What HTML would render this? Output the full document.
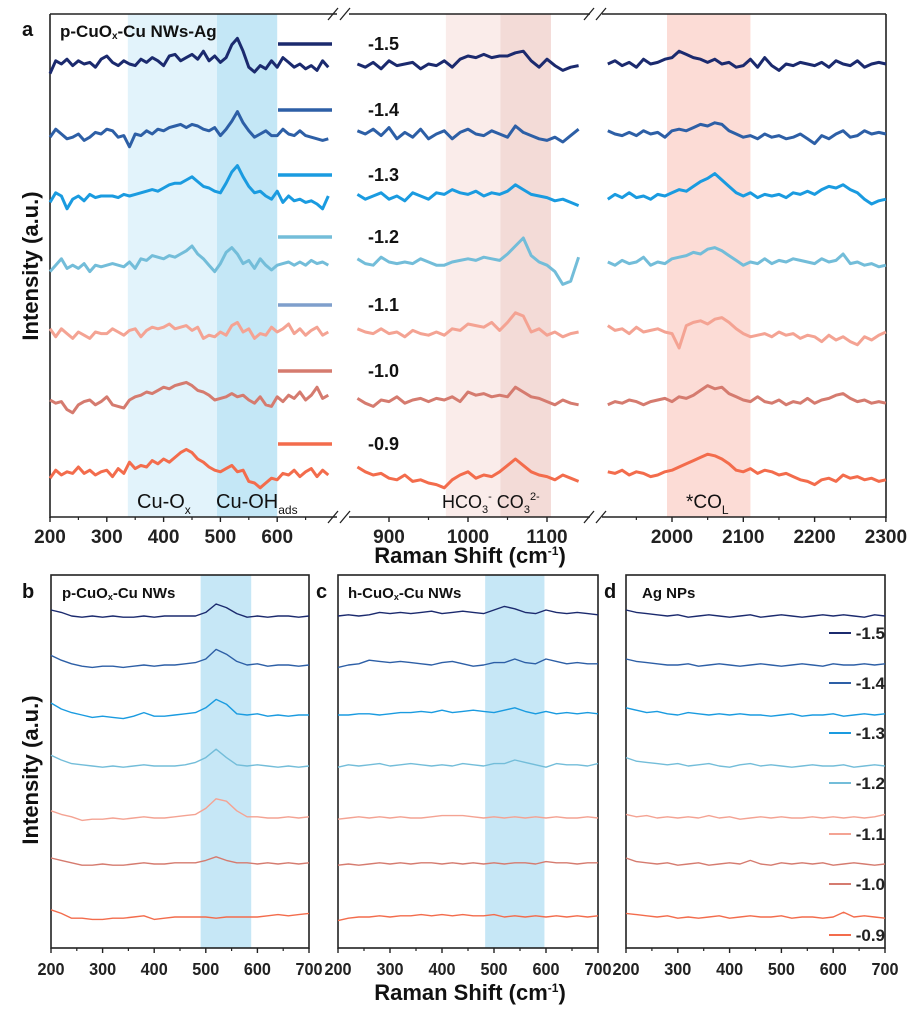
<!DOCTYPE html>
<html><head><meta charset="utf-8">
<style>
html,body{margin:0;padding:0;background:#fff;}
svg{display:block;font-family:"Liberation Sans",Arial,sans-serif;}
</style></head>
<body>
<svg id="fig" width="917" height="1011" viewBox="0 0 917 1011" xmlns="http://www.w3.org/2000/svg">
<g id="bands"></g>
<g id="frames"></g>
<g id="series"></g>
<g id="labels"></g>
</svg>
<script>
// ---------- DATA ----------
const potentials = ["-1.5","-1.4","-1.3","-1.2","-1.1","-1.0","-0.9"];
const seriesColors = ["#1b2a6e","#2d5fa6","#1a9be0","#73bdd9","#f4a393","#d57b6f","#f36c4c"];
const legendColorsA = ["#1b2a6e","#2d5fa6","#1a9be0","#73bdd9","#7f9fcc","#d57b6f","#f36c4c"];

const seg1X = [200,210,220,230,240,250,260,270,280,290,300,310,320,330,340,350,360,370,380,390,400,410,420,430,440,450,460,470,480,490,500,510,520,530,540,550,560,570,580,590,600,610,620,630,640,650,660,670,680,690];
const seg2X = [860,870,880,890,900,910,920,930,940,950,960,970,980,990,1000,1010,1020,1030,1040,1050,1060,1070,1080,1090,1100,1110,1120,1130,1140];
const seg3X = [1910,1920,1930,1940,1950,1960,1970,1980,1990,2000,2010,2020,2030,2040,2050,2060,2070,2080,2090,2100,2110,2120,2130,2140,2150,2160,2170,2180,2190,2200,2210,2220,2230,2240,2250,2260,2270,2280,2290,2300];

const aSeg1 = [
[-6,2,0,3,-1,2,0,1,-2,3,5,1,-1,2,0,-1,3,1,4,2,-1,5,6,2,4,6,3,8,2,5,1,4,12,16,8,-2,-5,-1,-3,2,-2,4,1,-2,0,-3,-1,-4,2,-2],
[-2,3,0,-3,-2,0,-4,-2,1,0,3,2,-2,-1,-8,0,-1,2,0,3,2,4,5,6,4,6,5,3,2,4,-1,3,8,14,7,2,-2,0,2,-1,-1,3,0,-1,2,-1,-2,-3,-4,-3],
[-4,2,0,-8,-2,0,-3,1,-1,0,0,0,-1,1,0,1,2,3,4,3,5,7,8,8,10,12,9,6,5,3,2,8,15,19,12,6,2,3,0,-2,3,-4,0,-3,-2,-4,-3,-5,-8,0],
[-6,-2,2,-4,-2,-4,-1,-6,-2,-3,-2,-1,-2,-3,0,-4,2,1,4,3,2,4,3,5,7,10,5,2,-2,-6,-1,6,9,5,-1,1,-4,2,-2,-5,-2,-1,0,-2,0,-2,1,-1,0,-2],
[2,-3,2,-1,-4,0,-2,-4,0,-1,-1,2,0,-2,1,2,-3,1,3,2,3,5,2,3,4,1,3,-4,-2,-3,0,-2,4,6,0,2,-4,-1,-2,3,0,2,5,-1,2,-2,1,3,-2,0],
[0,-2,-1,-6,-8,-3,-1,0,-3,-1,2,-3,-4,-5,0,2,3,5,4,6,8,7,9,10,11,9,6,5,3,0,1,2,4,2,3,0,-2,2,-3,-4,2,-1,3,1,5,0,3,8,1,3],
[-2,3,0,2,1,5,1,3,0,2,3,-1,4,1,8,4,6,5,9,7,10,8,11,14,16,14,10,8,5,3,2,4,6,2,3,-4,-5,-8,-5,-2,-3,1,0,3,-1,2,4,-1,3,0]
];
const aSeg2 = [
[0,-2,1,-3,2,-1,0,1,-3,0,-1,2,-2,3,5,4,6,4,5,5,7,8,2,-2,3,-1,-4,-2,-1],
[2,0,3,-1,4,-3,1,-2,3,-3,0,2,-3,1,3,0,-1,2,0,-2,5,1,-1,-3,-4,-2,-5,-1,3],
[1,-2,0,2,-2,0,-3,2,0,-2,2,1,4,2,1,3,0,2,1,3,7,4,1,0,-1,-3,-2,-4,-6],
[2,-1,-2,3,0,-1,0,-1,2,0,-2,-2,0,1,2,1,3,2,1,5,10,15,4,0,-2,-6,-14,-12,3],
[2,0,-1,2,-1,0,-3,1,-1,-2,0,-2,2,1,5,4,3,6,1,6,12,10,0,2,-2,0,-3,-1,0],
[1,-2,-4,0,-1,2,-2,0,1,-1,1,0,2,-1,5,3,4,2,3,2,8,5,2,1,-1,-3,0,-2,-3],
[5,2,0,1,-2,-3,0,-4,-3,-5,-6,-8,-3,0,2,-2,0,-1,2,6,10,6,2,0,-1,-3,0,-2,-4]
];
const aSeg3 = [
[0,2,-1,1,-2,3,0,1,3,4,8,6,4,3,1,3,0,1,-2,-1,3,-2,4,-1,-4,0,-1,1,0,-1,1,-2,2,0,-1,2,-2,0,1,0],
[2,0,-1,1,-1,2,0,1,-2,2,3,2,4,6,5,7,6,2,0,-2,-1,-3,0,-2,-1,-3,-2,0,-3,-6,-1,-3,0,2,-2,-1,2,0,1,0],
[-2,1,-1,2,-1,0,-2,1,0,2,4,3,6,9,11,14,10,6,2,0,2,-1,1,0,1,-1,2,1,3,1,4,6,5,7,4,2,-2,-5,-3,-2],
[0,-2,1,-1,0,3,-2,0,-1,2,3,4,6,5,8,9,7,4,1,-2,0,-1,2,-1,1,0,2,1,0,-1,2,0,1,5,-1,0,-2,-1,-3,-2],
[4,1,2,-1,3,0,1,2,0,-1,-10,4,6,7,5,8,9,6,2,-1,-3,-2,-1,-3,0,-2,-1,-4,-2,-3,-6,-2,-5,-3,-6,-8,-3,-5,-2,0],
[-3,-1,-2,0,-1,-3,-1,0,1,-1,2,1,3,6,9,7,8,4,2,0,-1,2,-1,-2,0,-3,-1,-2,1,-2,0,1,3,4,1,-1,0,-2,-1,-2],
[2,1,3,0,2,1,-1,0,2,3,5,7,9,11,13,12,10,7,3,2,4,1,3,2,0,1,-1,-3,-4,-6,-3,-2,-4,0,-2,-1,-3,-2,-4,-3]
];

const bottomX = [200,220,240,260,280,300,320,340,360,380,400,420,440,460,480,500,520,540,560,580,600,620,640,660,680,700];
const bSeries = [
[5,3,0,-1,0,-1,0,-1,-1,0,-1,0,0,0,0,3,10,7,2,-1,0,-1,0,0,-1,0],
[8,4,1,-1,-2,-1,-1,-2,-1,0,-1,0,0,1,2,5,13,9,3,0,1,-1,0,0,-1,0],
[10,5,2,0,-2,-1,-2,-3,-1,2,-1,-1,0,1,2,6,13,9,1,0,1,-1,0,-1,0,0],
[9,5,2,1,0,-1,0,-1,0,1,0,0,0,1,3,7,14,7,1,0,1,0,-1,0,-1,0],
[6,3,1,-2,-1,-1,0,-1,0,1,0,0,1,2,3,8,16,14,6,1,1,0,0,1,0,1],
[5,3,1,-1,-1,0,-1,-1,0,1,0,0,1,1,1,3,6,3,1,1,0,1,0,1,0,1],
[6,3,-1,-1,-2,-2,-1,-1,0,1,-2,-1,0,0,0,0,-1,0,0,0,0,1,2,1,2,3]
];
const cSeries = [
[0,1,0,1,3,2,3,2,3,4,2,3,4,3,2,5,8,6,3,2,5,3,2,3,2,1],
[-2,0,1,4,3,2,3,2,1,0,2,3,1,-1,0,2,2,5,2,1,5,3,1,2,1,1],
[0,0,1,1,0,1,2,2,3,2,4,2,3,4,3,2,4,6,3,1,3,1,2,1,2,1],
[-1,1,0,1,2,0,1,2,1,0,1,0,2,1,0,2,2,5,3,1,-1,2,1,1,0,2],
[-1,0,1,0,1,0,1,0,0,1,2,2,2,1,0,1,0,1,0,1,0,1,0,0,1,0],
[-1,0,-1,0,1,0,1,0,1,1,0,1,0,1,0,1,0,1,1,0,2,1,1,0,1,1],
[-3,-1,0,0,1,0,1,1,2,1,2,1,2,1,1,2,0,1,0,1,0,1,0,1,0,1]
];
const dSeries = [
[5,3,2,1,0,1,-1,0,1,0,-1,0,1,-1,0,1,0,-1,0,1,0,1,0,-1,1,0],
[5,3,2,1,0,0,1,-1,0,1,0,-1,0,1,0,-1,0,1,0,-1,1,0,0,1,0,1],
[6,4,2,3,1,0,2,1,0,1,0,1,0,0,-1,0,1,-1,0,0,1,-1,0,1,0,1],
[7,4,3,2,1,2,0,1,2,0,-1,1,2,0,1,0,-1,0,1,0,0,1,-1,0,1,0],
[3,1,2,0,1,0,1,0,2,0,1,-1,0,1,0,1,0,0,1,0,1,0,1,0,1,3],
[5,2,1,0,1,-1,0,1,-1,0,1,0,3,0,-1,1,0,1,0,1,-1,0,1,0,-1,0],
[3,2,1,0,1,-1,0,-1,0,1,-1,0,1,0,0,1,-1,0,0,-1,0,4,0,1,0,-1]
];
const offsetsA = [64,134,196,262,332,400,475];
const offsetsBottom = [616,665,715,766,818,864,917];
const ticksA1 = [200,300,400,500,600];
const ticksA2 = [900,1000,1100];
const ticksA3 = [2000,2100,2200,2300];
const ticksBottom = [200,300,400,500,600,700];

// ---------- SCALES ----------
const sx1 = v => 50 + (v-200)*0.568;
const sx2 = v => 389 + (v-900)*0.79;
const sx3 = v => 672 + (v-2000)*0.713;
const syA = (i,v) => offsetsA[i] - v*1.6;
const panelX = (x0,x1) => v => x0 + (v-200)/500*(x1-x0);
const sxb = panelX(51,309), sxc = panelX(338,598), sxd = panelX(626,885);
const syB = (i,v) => offsetsBottom[i] - v*1.2;

const NS="http://www.w3.org/2000/svg";
function mk(tag, parent, attrs){const e=document.createElementNS(NS,tag);for(const k in attrs)e.setAttribute(k,attrs[k]);parent.appendChild(e);return e;}
const gB=document.getElementById('bands'),gF=document.getElementById('frames'),gS=document.getElementById('series'),gL=document.getElementById('labels');

// ---------- BANDS ----------
function band(x0,x1,y0,y1,fill,name){const r=mk('rect',gB,{x:x0,y:y0,width:x1-x0,height:y1-y0,fill:fill});

}
band(sx1(337),sx1(494),14,517,'#e2f3fb','band-cu-ox');
band(sx1(494),sx1(600),14,517,'#c4e7f6','band-cu-oh');
band(sx2(972),sx2(1041),14,517,'#faecea','band-hco3');
band(sx2(1041),sx2(1105),14,517,'#f3dbd7','band-co3');
band(sx3(1993),sx3(2110),14,517,'#fcdcd6','band-co-l');
band(sxb(490),sxb(588),575,948,'#c6e7f6','band-b-cu-oh');
band(sxc(483),sxc(597),575,948,'#c6e7f6','band-c-cu-oh');

// ---------- FRAMES ----------
function line(x1,y1,x2,y2,w,name,col){const l=mk('line',gF,{x1:x1,y1:y1,x2:x2,y2:y2,stroke:col||'#222','stroke-width':w});

return l;}
line(50,14,50,518,1.6,'a-left-axis');
line(886,14,886,518,1.6,'a-right-axis');
line(50,14,337,14,1.6,'a-top-axis-1');line(349,14,590,14,1.6,'a-top-axis-2');line(602,14,886,14,1.6,'a-top-axis-3');
line(50,517,337,517,1.6,'a-x-axis-1');line(349,517,590,517,1.6,'a-x-axis-2');line(602,517,886,517,1.6,'a-x-axis-3');
[[333,589],[345,601]].forEach(p=>p.forEach(x=>{line(x-5,523,x+5,511,1.3,'axis-break-mark');line(x-5,20,x+5,8,1.3,'axis-break-mark');}));
function ticks(arr,sx,y,minorStep,lo,hi,prefix){
 arr.forEach(v=>{line(sx(v),y,sx(v),y+5,1.4,prefix+'-tick');
  const t=mk('text',gL,{x:sx(v),y:y+26,'text-anchor':'middle','font-size':19,'font-weight':'bold',fill:'#222'});t.textContent=v;
  
  });
 for(let v=lo;v<=hi;v+=minorStep){if(arr.indexOf(v)<0)line(sx(v),y,sx(v),y+3,1.2,prefix+'-minor-tick');}
}
ticks(ticksA1,sx1,517,50,250,650,'a1');
ticks(ticksA2,sx2,517,50,950,1050,'a2');
ticks(ticksA3,sx3,517,50,1950,2250,'a3');
[[51,309,'b'],[338,598,'c'],[626,885,'d']].forEach(([x0,x1,n])=>{
 const r=mk('rect',gF,{x:x0,y:575,width:x1-x0,height:373,fill:'none',stroke:'#222','stroke-width':1.6});
 
 
 const sx=panelX(x0,x1);
 ticksBottom.forEach(v=>{line(sx(v),948,sx(v),953,1.4,n+'-tick');
  const t=mk('text',gL,{x:sx(v),y:975,'text-anchor':'middle','font-size':18,'font-weight':'bold',fill:'#222',transform:`translate(${sx(v)*0.1},0) scale(0.9,1)`});
  t.textContent=v;
  
  });
 for(let v=250;v<=650;v+=100)line(sx(v),948,sx(v),951,1.2,n+'-minor-tick');
});

// ---------- SERIES ----------
function path(xs,ys,sx,sy,i,col,w,name){
 let d='';xs.forEach((x,k)=>{d+=(k?'L':'M')+sx(x).toFixed(1)+','+sy(i,ys[k]).toFixed(1);});
 const p=mk('path',gS,{d:d,fill:'none',stroke:col,'stroke-width':w,'stroke-linejoin':'round'});
 
 
}
potentials.forEach((pt,i)=>{
 path(seg1X,aSeg1[i],sx1,syA,i,seriesColors[i],3,'a-spectrum-low-'+pt);
 path(seg2X,aSeg2[i],sx2,syA,i,seriesColors[i],3,'a-spectrum-mid-'+pt);
 path(seg3X,aSeg3[i],sx3,syA,i,seriesColors[i],3,'a-spectrum-high-'+pt);
 path(bottomX,bSeries[i],sxb,syB,i,seriesColors[i],1.4,'b-spectrum-'+pt);
 path(bottomX,cSeries[i],sxc,syB,i,seriesColors[i],1.4,'c-spectrum-'+pt);
 path(bottomX,dSeries[i],sxd,syB,i,seriesColors[i],1.4,'d-spectrum-'+pt);
 const ly=[44,110,175,237,305,371,444][i];
 line(278,ly,332,ly,3.5,'a-legend-line-'+pt,legendColorsA[i]);
 const t=mk('text',gL,{x:368,y:ly+6,'font-size':18,'font-weight':'bold',fill:'#111'});t.textContent=pt;
 
 
 const dy=[633,683,733,783,834,884,935][i];
 line(829,dy,851,dy,2,'d-legend-line-'+pt,seriesColors[i]);
 const t2=mk('text',gL,{x:885,y:dy+6,'text-anchor':'end','font-size':17,'font-weight':'bold',fill:'#222'});t2.textContent=pt;
 
 
});

// ---------- TEXT LABELS ----------
function txt(x,y,s,size,name,extra){const t=mk('text',gL,Object.assign({x:x,y:y,'font-size':size,'font-weight':'bold',fill:'#111'},extra||{}));t.innerHTML=s;
 
 return t;}
txt(22,36,'a',20,'panel-a-letter');
txt(60,37,'p-CuO<tspan font-size="10" dy="2">x</tspan><tspan dy="-2">-Cu NWs-Ag</tspan>',17,'panel-a-title');
txt(137,508,'Cu-O<tspan font-size="12" dy="6">x</tspan>',20,'label-cu-ox',{'font-weight':'normal'});
txt(216,508,'Cu-OH<tspan font-size="12" dy="6">ads</tspan>',20,'label-cu-oh-ads',{'font-weight':'normal'});
txt(442,508,'HCO<tspan font-size="11" dy="5">3</tspan><tspan font-size="11" dy="-13">-</tspan><tspan dy="8"> CO</tspan><tspan font-size="11" dy="5">3</tspan><tspan font-size="11" dy="-13">2-</tspan>',18,'label-hco3-co3',{'font-weight':'normal'});
txt(686,508,'*CO<tspan font-size="12" dy="6">L</tspan>',19,'label-co-l',{'font-weight':'normal'});
txt(470,563,'Raman Shift (cm<tspan font-size="12" dy="-8">-1</tspan><tspan dy="8">)</tspan>',22,'a-x-axis-title',{'text-anchor':'middle'});
txt(38,266,'Intensity (a.u.)',22,'a-y-axis-title',{'text-anchor':'middle',transform:'rotate(-90 38 266)'});
txt(22,598,'b',20,'panel-b-letter');
txt(62,598,'p-CuO<tspan font-size="9" dy="2">x</tspan><tspan dy="-2">-Cu NWs</tspan>',15,'panel-b-title');
txt(316,598,'c',20,'panel-c-letter');
txt(348,598,'h-CuO<tspan font-size="9" dy="2">x</tspan><tspan dy="-2">-Cu NWs</tspan>',15,'panel-c-title');
txt(604,598,'d',20,'panel-d-letter');
txt(642,598,'Ag NPs',15,'panel-d-title');
txt(470,1000,'Raman Shift (cm<tspan font-size="12" dy="-8">-1</tspan><tspan dy="8">)</tspan>',22,'bottom-x-axis-title',{'text-anchor':'middle'});
txt(38,770,'Intensity (a.u.)',22,'bottom-y-axis-title',{'text-anchor':'middle',transform:'rotate(-90 38 770)'});
</script>
</body></html>
